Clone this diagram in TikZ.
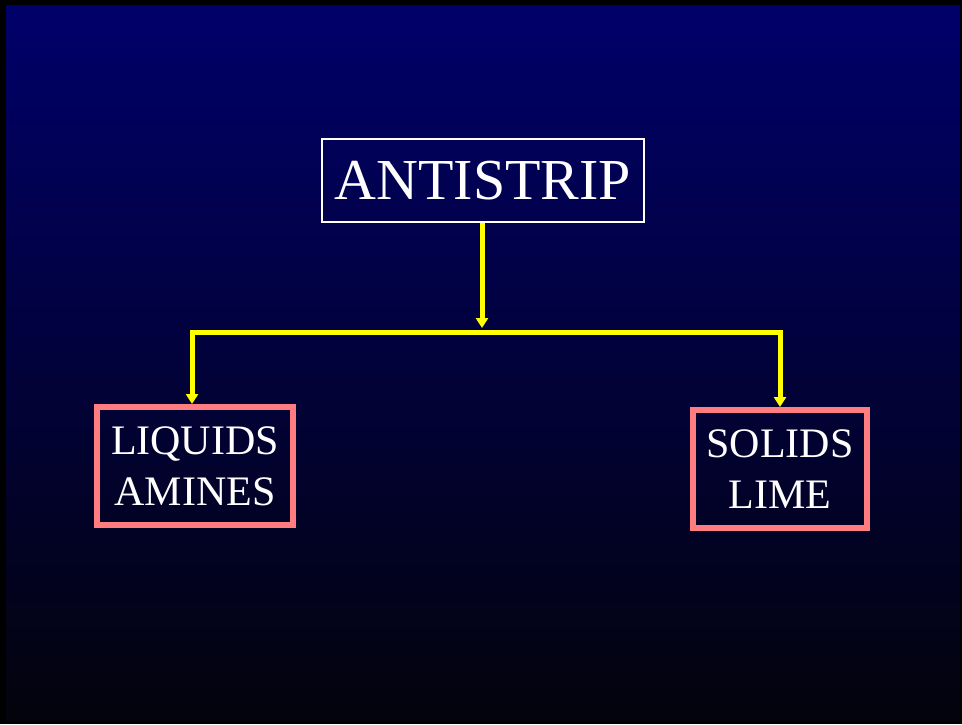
\documentclass[tikz,border=0pt]{standalone}
\usepackage{fontspec}
\setmainfont{Liberation Serif}
\usetikzlibrary{arrows.meta}
\definecolor{slidetop}{RGB}{0,0,106}
\definecolor{slidebottom}{RGB}{3,3,12}
\definecolor{boxpink}{RGB}{255,124,128}
\definecolor{feedyellow}{RGB}{255,255,0}
\begin{document}
\begin{tikzpicture}[x=1pt,y=-1pt,
  mainbox/.style={draw=white,line width=2pt,minimum width=322pt,minimum height=83pt,
    text=white,inner sep=0pt,font=\fontsize{58}{60}\selectfont},
  kindbox/.style={draw=boxpink,line width=6pt,minimum height=118pt,inner sep=0pt,
    text=white,align=center,font=\fontsize{42}{51}\selectfont},
  feed/.style={draw=feedyellow,line width=5pt,line join=miter,
    -{Triangle[width=12pt,length=10pt]}}]
\useasboundingbox (0,0) rectangle (962,724);
\fill[black] (0,0) rectangle (962,724);
\shade[top color=slidetop,bottom color=slidebottom] (6,5) rectangle (960,721);
\node[mainbox] (antistrip) at (483,180.5) {ANTISTRIP};
\node[kindbox,minimum width=196pt] (liquids) at (195,466) {LIQUIDS\\AMINES};
\node[kindbox,minimum width=174pt] (solids) at (780,469) {SOLIDS\\LIME};
\coordinate (join) at (482,328);
\coordinate (bar) at (482,332);
\draw[feed] ([xshift=-1pt]antistrip.south) -- (join);
\draw[feed,{Triangle[width=12pt,length=10pt]}-{Triangle[width=12pt,length=10pt]}]
  ([xshift=-3pt]liquids.north) |- (bar) -| (solids.north);
\end{tikzpicture}
\end{document}
